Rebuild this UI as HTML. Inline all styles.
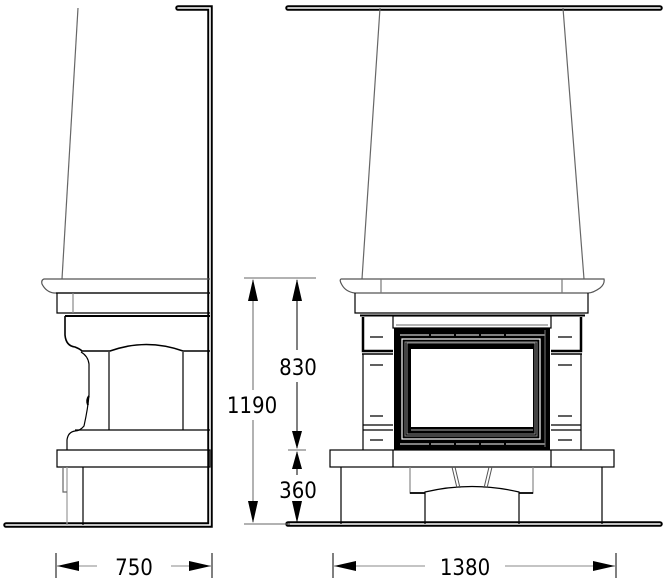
<!DOCTYPE html>
<html><head><style>html,body{margin:0;padding:0;background:#fff}svg{display:block}</style></head>
<body>
<svg width="663" height="584" viewBox="0 0 663 584" xmlns="http://www.w3.org/2000/svg" fill="none" stroke="#000" stroke-width="1.2" font-family="'DejaVu Sans Condensed','DejaVu Sans','Liberation Sans',sans-serif">
<!-- walls (double lines) -->
<g stroke-linecap="round">
<path d="M178 8 H210 V525 H6" stroke-width="5.5"/>
<path d="M178 8 H210 V525 H6" stroke="#fff" stroke-width="1.6"/>
<path d="M288 8 H660" stroke-width="5.5"/>
<path d="M288 8 H660" stroke="#fff" stroke-width="1.6"/>
<path d="M288 524 H660" stroke-width="5.5"/>
<path d="M288 524 H660" stroke="#fff" stroke-width="1.6"/>
</g>

<!-- LEFT side view -->
<g>
<path d="M78 8 L62 279" stroke="#666"/>
<path d="M210 279 H44 Q41 280 42 284 Q46 292 54 293 H210" stroke="#555"/>
<path d="M56 293 H210 M57 293 V313 H210" />
<path d="M73 293 V313" stroke="#888"/>
<path d="M65 316 H210" stroke-width="2"/>
<path d="M65 316 V335 Q66 346 75 347 Q80 349 82 351 H110 Q146 338 183 351 H210" stroke-width="1.6"/>
<path d="M81 352 Q88 356 89 364 V395 Q88 408 84 426 Q80 431 75 431 Q68 432 67 440 V450"/>
<path d="M89 396 Q86 400 88 405" stroke-width="2"/>
<path d="M109 352 V430 M183 352 V430" />
<path d="M75 430 H210"/>
<path d="M57 450 H210 V467 H57 Z"/>
<path d="M67 467 V525" stroke="#999"/>
<path d="M83 467 V525"/>
<path d="M63 467 V492 H67" stroke="#666"/>
</g>

<!-- FRONT view -->
<g>
<path d="M380 8 L362 279 M563 8 L584 279" stroke="#666"/>
<path d="M341 279 H604 Q605 284 600 288 Q593 293 588 293 H355 Q346 292 342 285 Q339 280 341 279 Z" stroke="#555"/>
<path d="M381 279 V293 M562 279 V293" stroke="#777"/>
<path d="M355 293 V313 H588 V293"/>
<path d="M360 315.5 H585" stroke-width="2"/>
<!-- pilasters -->
<g>
<path d="M363 317 V351 H393 M551 351 H581 V317" stroke-width="2.5"/>
<path d="M362 354 H393 M551 354 H582" stroke-width="1.5"/>
<path d="M363 354 V450 M581 354 V450"/>
<path d="M363 425 H393 M363 430 H393 M551 425 H581 M551 430 H581"/>
<path d="M370 337 H383 M370 365 H383 M370 416 H383 M370 440 H383 M558 337 H572 M558 365 H572 M558 416 H572 M558 440 H572"/>
</g>
<!-- firebox -->
<rect x="393" y="316" width="158" height="12" stroke="#000"/>
<path d="M396 325 H548" stroke="#888"/>
<rect x="394" y="328" width="156" height="122" fill="#000" stroke="none"/>
<path d="M400 335 H545 M400 444 H545" stroke="#fff" stroke-width="1"/>
<path d="M430 333 V337 M455 333 V337 M480 333 V337 M505 333 V337 M430 442 V446 M455 442 V446 M480 442 V446 M505 442 V446" stroke="#000" stroke-width="2"/>
<rect x="402" y="339" width="138" height="100" stroke="#fff" stroke-width="1.2"/>
<rect x="405" y="342" width="132" height="94" stroke="#888" stroke-width="1"/>
<rect x="407" y="343" width="128" height="91" stroke="#aaa" stroke-width="0.8"/>
<rect x="411" y="349" width="122" height="78" fill="#fff" stroke="none"/>
<path d="M545 330 V447" stroke="#777" stroke-width="1"/>
<path d="M411 430 H533" stroke="#777" stroke-width="1.5"/>
<!-- hearth -->
<rect x="330" y="450" width="284" height="17"/>
<path d="M393 450 V467 M551 450 V467"/>
<path d="M341 467 V524 M602 467 V524"/>
<path d="M410 467 V493 H425 M533 467 V493 H519" stroke="#888"/>
<path d="M410 493 H425 M519 493 H533" stroke-width="1.8"/>
<path d="M425 524 V492 Q472 481 519 492 V524"/>
<path d="M452 467 L457 488 M455 467 L460 488 M492 467 L487 488 M489 467 L484 488" stroke="#555" stroke-width="1"/>
</g>

<!-- dimensions -->
<g fill="#000" stroke="#000">
<path d="M244 278 H316 M244 524 H290 M288 450 H306" stroke="#666" stroke-width="1"/>
<path d="M253 280 V390 M253 420 V522" stroke="#666" stroke-width="1"/>
<path d="M297 280 V350 M297 382 V448 M297 452 V475 M297 505 V522" stroke-width="1"/>
<path d="M253 279 L248 301 H258 Z M253 523 L248 501 H258 Z" stroke="none"/>
<path d="M297 279 L292 301 H302 Z M297 449 L292 431 H302 Z M297 451 L292 469 H302 Z M297 523 L292 501 H302 Z" stroke="none"/>
<text x="252" y="413" font-size="22" text-anchor="middle" stroke="none">1190</text>
<text x="298" y="375" font-size="22" text-anchor="middle" stroke="none">830</text>
<text x="298" y="498" font-size="22" text-anchor="middle" stroke="none">360</text>

<path d="M56 553 V578 M212 553 V578 M333 553 V578 M616 553 V578" stroke-width="1"/>
<path d="M57 566 H97 M171 566 H211 M334 566 H425 M505 566 H615" stroke="#888" stroke-width="1"/>
<path d="M57 566 L79 561 V571 Z M211 566 L189 561 V571 Z M334 566 L356 561 V571 Z M615 566 L593 561 V571 Z" stroke="none"/>
<text x="134" y="575" font-size="22" text-anchor="middle" stroke="none">750</text>
<text x="465" y="575" font-size="22" text-anchor="middle" stroke="none">1380</text>
</g>
</svg>
</body></html>
